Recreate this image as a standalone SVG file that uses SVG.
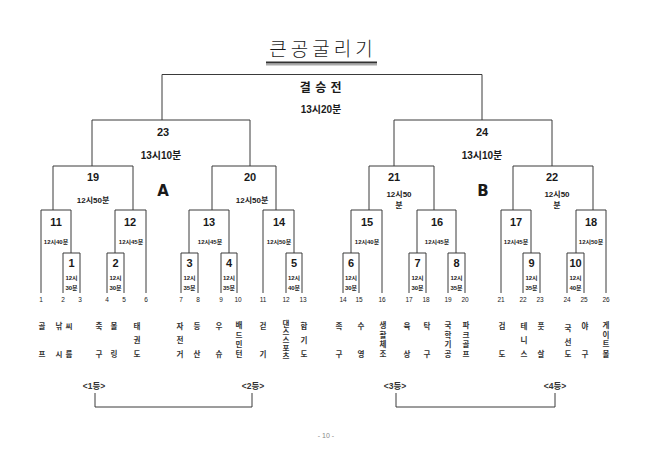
<svg xmlns="http://www.w3.org/2000/svg" width="650" height="462" viewBox="0 0 650 462">
<style>
.bg{fill:#ffffff}
.ln{stroke:#3a3a3a;stroke-width:1;fill:none}
text{font-family:"Liberation Sans","Noto Sans CJK KR",sans-serif;fill:#1a1a1a;text-anchor:middle}
.title{font-family:"Noto Sans CJK KR",sans-serif;font-size:19px;font-weight:300;letter-spacing:4px}
.big{font-size:12px;font-weight:bold;letter-spacing:0.5px}
.t1{font-size:10px;font-weight:bold}
.n1{font-size:11px;font-weight:bold}
.t2{font-size:8px;font-weight:bold}
.t3{font-size:6px;font-weight:bold}
.grp{font-size:15px;font-weight:900;font-family:"DejaVu Sans","Liberation Sans",sans-serif}
.leaf{font-size:6.5px}
.lab{font-family:"Noto Sans CJK KR",sans-serif;font-size:7.5px;font-weight:bold;fill:#333}
.vert{writing-mode:vertical-rl;text-anchor:start;letter-spacing:0.5px}
.rank{font-size:8.5px;font-weight:bold;fill:#333}
.pg{font-size:7px;fill:#888}
</style>
<rect class="bg" x="0" y="0" width="650" height="462"/>

<g id="title">
<text class="title" x="323" y="56">큰공굴리기</text>
<line x1="266" y1="62.5" x2="377" y2="62.5" stroke="#333" stroke-width="2"/>
<line x1="266" y1="64.8" x2="377" y2="64.8" stroke="#aaa" stroke-width="1.4"/>
</g>

<g id="connectors">
<path class="ln" d="M162,120 V74.5 H482 V120"/>
<path class="ln" d="M92,166 V120 H250 V166"/>
<path class="ln" d="M394,166 V120 H552 V166"/>
<path class="ln" d="M53,210 V166 H133 V210"/>
<path class="ln" d="M212,210 V166 H276 V210"/>
<path class="ln" d="M369,210 V166 H434 V210"/>
<path class="ln" d="M513,210 V166 H593 V210"/>
<path class="ln" d="M41,293 V210 H71 V253"/>
<path class="ln" d="M63,293 V253 H80 V293"/>
<path class="ln" d="M115,253 V210 H146 V293"/>
<path class="ln" d="M107,293 V253 H124 V293"/>
<path class="ln" d="M189,253 V210 H229 V253"/>
<path class="ln" d="M181,293 V253 H198 V293"/>
<path class="ln" d="M221,293 V253 H237 V293"/>
<path class="ln" d="M263,293 V210 H294 V253"/>
<path class="ln" d="M286,293 V253 H302 V293"/>
<path class="ln" d="M351,253 V210 H382 V293"/>
<path class="ln" d="M343,293 V253 H359 V293"/>
<path class="ln" d="M417,253 V210 H456 V253"/>
<path class="ln" d="M409,293 V253 H426 V293"/>
<path class="ln" d="M448,293 V253 H465 V293"/>
<path class="ln" d="M501,293 V210 H531 V253"/>
<path class="ln" d="M523,293 V253 H540 V293"/>
<path class="ln" d="M576,253 V210 H606 V293"/>
<path class="ln" d="M567,293 V253 H584 V293"/>
<path class="ln" d="M95,393 V407 H252 V393"/>
<path class="ln" d="M396,393 V407 H555 V393"/>
</g>

<g id="final"><text class="big" x="321" y="92">결 승 전</text><text class="t1" x="321" y="113">13시20분</text></g>
<g id="n23"><text class="n1" x="163" y="136">23</text><text class="t1" x="161" y="159">13시10분</text></g>
<g id="n24"><text class="n1" x="482" y="136">24</text><text class="t1" x="482" y="159">13시10분</text></g>

<g id="groupA"><text class="grp" x="163" y="196">A</text></g>
<g id="groupB"><text class="grp" x="483" y="196">B</text></g>

<g id="n19"><text class="n1" x="93" y="181">19</text><text class="t2" x="93" y="203">12시50분</text></g>
<g id="n20"><text class="n1" x="250" y="181">20</text><text class="t2" x="252" y="203">12시50분</text></g>
<g id="n21"><text class="n1" x="394" y="181">21</text><text class="t2" x="399" y="197">12시50</text><text class="t2" x="399" y="208">분</text></g>
<g id="n22"><text class="n1" x="552" y="181">22</text><text class="t2" x="557" y="197">12시50</text><text class="t2" x="557" y="208">분</text></g>

<g id="n11"><text class="n1" x="56" y="226">11</text><text class="t3" x="56" y="244">12시40분</text></g>
<g id="n12"><text class="n1" x="130" y="226">12</text><text class="t3" x="131" y="244">12시45분</text></g>
<g id="n13"><text class="n1" x="209" y="226">13</text><text class="t3" x="210" y="244">12시45분</text></g>
<g id="n14"><text class="n1" x="279" y="226">14</text><text class="t3" x="279" y="244">12시50분</text></g>
<g id="n15"><text class="n1" x="367" y="226">15</text><text class="t3" x="367" y="244">12시40분</text></g>
<g id="n16"><text class="n1" x="437" y="226">16</text><text class="t3" x="437" y="244">12시45분</text></g>
<g id="n17"><text class="n1" x="516" y="226">17</text><text class="t3" x="516" y="244">12시45분</text></g>
<g id="n18"><text class="n1" x="591" y="226">18</text><text class="t3" x="591" y="244">12시50분</text></g>

<g id="n1"><text class="n1" x="71.5" y="267">1</text><text class="t3" x="71.5" y="280">12시</text><text class="t3" x="71.5" y="290">30분</text></g>
<g id="n2"><text class="n1" x="115.5" y="267">2</text><text class="t3" x="115.5" y="280">12시</text><text class="t3" x="115.5" y="290">30분</text></g>
<g id="n3"><text class="n1" x="189.5" y="267">3</text><text class="t3" x="189.5" y="280">12시</text><text class="t3" x="189.5" y="290">35분</text></g>
<g id="n4"><text class="n1" x="229" y="267">4</text><text class="t3" x="229" y="280">12시</text><text class="t3" x="229" y="290">35분</text></g>
<g id="n5"><text class="n1" x="294" y="267">5</text><text class="t3" x="294" y="280">12시</text><text class="t3" x="294" y="290">40분</text></g>
<g id="n6"><text class="n1" x="351" y="267">6</text><text class="t3" x="351" y="280">12시</text><text class="t3" x="351" y="290">30분</text></g>
<g id="n7"><text class="n1" x="417.5" y="267">7</text><text class="t3" x="417.5" y="280">12시</text><text class="t3" x="417.5" y="290">30분</text></g>
<g id="n8"><text class="n1" x="456.5" y="267">8</text><text class="t3" x="456.5" y="280">12시</text><text class="t3" x="456.5" y="290">35분</text></g>
<g id="n9"><text class="n1" x="531.5" y="267">9</text><text class="t3" x="531.5" y="280">12시</text><text class="t3" x="531.5" y="290">35분</text></g>
<g id="n10"><text class="n1" x="575.5" y="267">10</text><text class="t3" x="575.5" y="280">12시</text><text class="t3" x="575.5" y="290">40분</text></g>

<g id="leaves">
<text class="leaf" x="41" y="302">1</text><text class="leaf" x="63" y="302">2</text><text class="leaf" x="80" y="302">3</text>
<text class="leaf" x="107" y="302">4</text><text class="leaf" x="124" y="302">5</text><text class="leaf" x="146" y="302">6</text>
<text class="leaf" x="181" y="302">7</text><text class="leaf" x="198" y="302">8</text><text class="leaf" x="221" y="302">9</text>
<text class="leaf" x="238" y="302">10</text><text class="leaf" x="263" y="302">11</text><text class="leaf" x="286" y="302">12</text>
<text class="leaf" x="303" y="302">13</text><text class="leaf" x="343" y="302">14</text><text class="leaf" x="359" y="302">15</text>
<text class="leaf" x="382" y="302">16</text><text class="leaf" x="409" y="302">17</text><text class="leaf" x="426" y="302">18</text>
<text class="leaf" x="448" y="302">19</text><text class="leaf" x="465" y="302">20</text><text class="leaf" x="501" y="302">21</text>
<text class="leaf" x="523" y="302">22</text><text class="leaf" x="540" y="302">23</text><text class="leaf" x="567" y="302">24</text>
<text class="leaf" x="584" y="302">25</text><text class="leaf" x="606" y="302">26</text>
</g>

<g id="sports">
<text class="lab" x="42" y="329">골</text><text class="lab" x="42" y="357">프</text>
<text class="lab" x="59" y="329">낚</text><text class="lab" x="59" y="357">시</text>
<text class="lab" x="69" y="329">씨</text><text class="lab" x="69" y="357">름</text>
<text class="lab" x="99" y="329">축</text><text class="lab" x="99" y="357">구</text>
<text class="lab" x="114" y="329">볼</text><text class="lab" x="114" y="357">링</text>
<text class="lab" x="137" y="329">태</text><text class="lab" x="137" y="343">권</text><text class="lab" x="137" y="357">도</text>
<text class="lab" x="180" y="329">자</text><text class="lab" x="180" y="343">전</text><text class="lab" x="180" y="357">거</text>
<text class="lab" x="197" y="329">등</text><text class="lab" x="197" y="357">산</text>
<text class="lab" x="219" y="329">우</text><text class="lab" x="219" y="357">슈</text>
<text class="lab" x="239" y="328">배</text><text class="lab" x="239" y="337.5">드</text><text class="lab" x="239" y="347">민</text><text class="lab" x="239" y="356.5">턴</text>
<text class="lab" x="263" y="329">걷</text><text class="lab" x="263" y="357">기</text>
<text class="lab vert" x="286" y="320">댄스스포츠</text>
<text class="lab" x="304" y="329">합</text><text class="lab" x="304" y="343">기</text><text class="lab" x="304" y="357">도</text>

<text class="lab" x="339" y="329">족</text><text class="lab" x="339" y="357">구</text>
<text class="lab" x="361" y="329">수</text><text class="lab" x="361" y="357">영</text>
<text class="lab" x="383" y="328">생</text><text class="lab" x="383" y="337.5">활</text><text class="lab" x="383" y="347">체</text><text class="lab" x="383" y="356.5">조</text>
<text class="lab" x="407" y="329">육</text><text class="lab" x="407" y="357">상</text>
<text class="lab" x="427" y="329">탁</text><text class="lab" x="427" y="357">구</text>
<text class="lab" x="448" y="328">국</text><text class="lab" x="448" y="337.5">학</text><text class="lab" x="448" y="347">기</text><text class="lab" x="448" y="356.5">공</text>
<text class="lab" x="466" y="328">파</text><text class="lab" x="466" y="337.5">크</text><text class="lab" x="466" y="347">골</text><text class="lab" x="466" y="356.5">프</text>
<text class="lab" x="502" y="329">검</text><text class="lab" x="502" y="357">도</text>
<text class="lab" x="524" y="329">테</text><text class="lab" x="524" y="343">니</text><text class="lab" x="524" y="357">스</text>
<text class="lab" x="541" y="329">풋</text><text class="lab" x="541" y="357">살</text>
<text class="lab" x="568" y="331">국</text><text class="lab" x="568" y="345">선</text><text class="lab" x="568" y="357">도</text>
<text class="lab" x="585" y="329">야</text><text class="lab" x="585" y="357">구</text>
<text class="lab" x="606" y="328">게</text><text class="lab" x="606" y="337.5">이</text><text class="lab" x="606" y="347">트</text><text class="lab" x="606" y="356.5">볼</text>
</g>

<g id="ranks">
<text class="rank" x="94" y="389">&lt;1등&gt;</text>
<text class="rank" x="253" y="389">&lt;2등&gt;</text>
<text class="rank" x="395" y="389">&lt;3등&gt;</text>
<text class="rank" x="555" y="389">&lt;4등&gt;</text>
</g>

<g id="page"><text class="pg" x="326" y="438">- 10 -</text></g>
</svg>
